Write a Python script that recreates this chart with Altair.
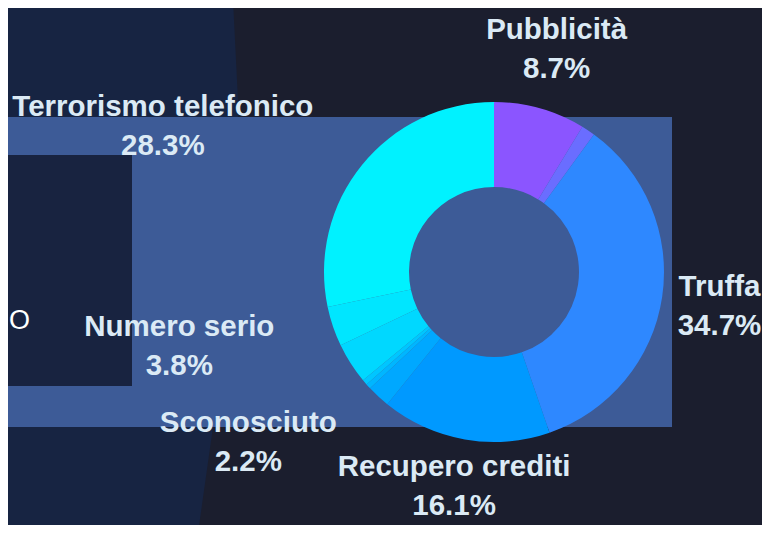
import altair as alt
import pandas as pd

# ---- data ----
categories = ["Pubblicità", "Altro A", "Truffa", "Recupero crediti", "Sconosciuto",
              "Altro B", "Altro C", "Altro D", "Numero serio", "Terrorismo telefonico"]
shares = [8.7, 1.3, 34.7, 16.1, 2.2, 0.5, 0.5, 3.9, 3.8, 28.3]
labelled = [True, False, True, True, True, False, False, False, True, True]
colors = ["#8b55ff", "#6a6dff", "#2e88ff", "#0099ff", "#00a8ff",
          "#00b6ff", "#00c6ff", "#00d8ff", "#00e6ff", "#00f2ff"]

df = pd.DataFrame({
    "categoria": categories,
    "quota": shares,
    "ordine": list(range(len(categories))),
})
df["etichetta"] = [f"{c}\n{v}%" if m else "" for c, v, m in zip(categories, shares, labelled)]

# ---- decoration (page background shapes), chart pixel coords ----
edge_y = [-8, 92, 109, 419, 525]
edge_x = [225, 230, 230, 205, 190]
edge_df = pd.DataFrame({"py": edge_y, "px": edge_x})
one = pd.DataFrame({"a": [0]})

W, H = 754, 517
CX, CY = 486, 264
LABEL_COLOR = "#dbeaf5"
FONT = "Liberation Sans"

left_panel = alt.Chart(edge_df).mark_area(orient="horizontal", color="#172442").encode(
    y=alt.Y("py:Q", scale=None, axis=None),
    x=alt.X("px:Q", scale=None, axis=None),
    x2=alt.value(0),
)

light_rect = alt.Chart(one).mark_rect(color="#3d5b97").encode(
    x=alt.value(-8), x2=alt.value(664), y=alt.value(109), y2=alt.value(419)
)
dark_rect = alt.Chart(one).mark_rect(color="#182340").encode(
    x=alt.value(-8), x2=alt.value(124), y=alt.value(147), y2=alt.value(378)
)
o_text = alt.Chart(one).mark_text(
    text="O", align="left", baseline="alphabetic", fontSize=27, font=FONT,
    fontWeight="normal", color="#ffffff"
).encode(x=alt.value(1), y=alt.value(321))

base = alt.Chart(df).encode(
    theta=alt.Theta("quota:Q", stack=True),
    order=alt.Order("ordine:Q"),
)

donut = base.mark_arc(innerRadius=85, outerRadius=170, strokeWidth=0).encode(
    color=alt.Color("categoria:N", scale=alt.Scale(domain=categories, range=colors), legend=None),
    x=alt.value(CX), y=alt.value(CY),
)


def label_layer(names, dx, dy=-19):
    cond = " || ".join([f"datum.categoria == '{n}'" for n in names])
    return base.mark_text(
        radius=232, dx=dx, dy=dy, align="center", baseline="middle", lineBreak="\n",
        lineHeight=39, fontSize=29.5, fontWeight="bold", font=FONT, color=LABEL_COLOR,
    ).transform_calculate(
        testo=f"({cond}) ? datum.etichetta : ''"
    ).encode(
        text="testo:N", x=alt.value(CX), y=alt.value(CY)
    )


labels = [
    label_layer(["Pubblicità"], 0),
    label_layer(["Recupero crediti"], 0, -34),
    label_layer(["Truffa"], -4),
    label_layer(["Sconosciuto"], -88),
    label_layer(["Numero serio"], -95),
    label_layer(["Terrorismo telefonico"], -151),
]

chart = alt.layer(left_panel, light_rect, dark_rect, o_text, donut, *labels).properties(
    width=W, height=H, padding=0, autosize="none", background="#1b1e2e"
).configure_view(strokeWidth=0)

chart.save("out.html", embed_options={"renderer": "svg", "actions": False})
